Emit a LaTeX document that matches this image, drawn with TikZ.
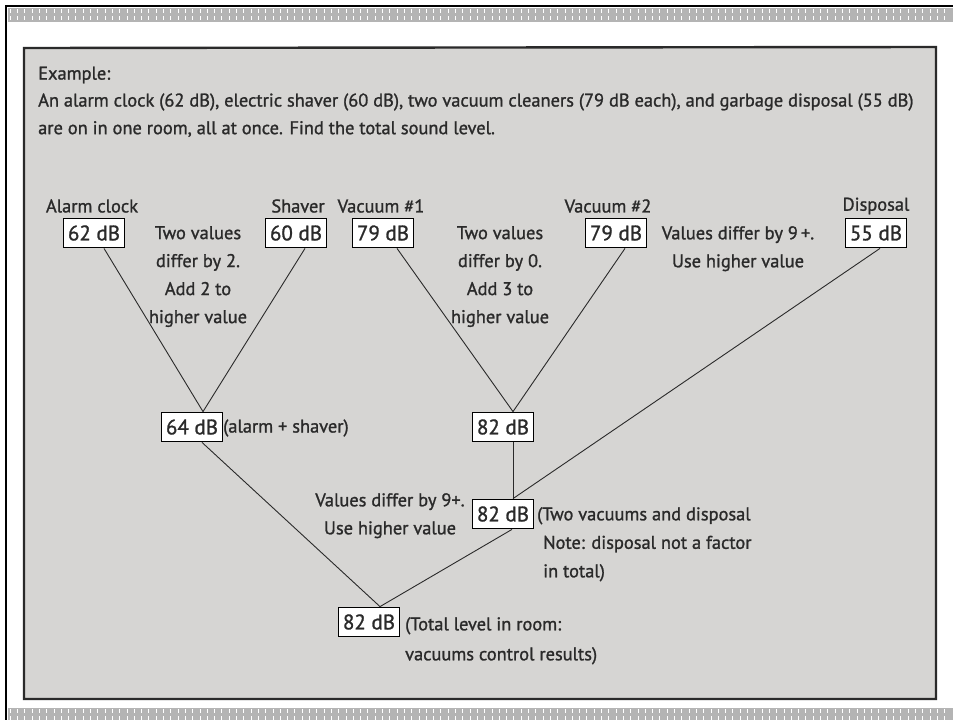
\documentclass[tikz,border=0pt]{standalone}
\usepackage{fontspec}
\setmainfont{PT Sans}[FakeBold=1.2]
\definecolor{ink}{HTML}{2A2A2A}
\definecolor{panel}{HTML}{D6D5D3}
\definecolor{band}{HTML}{B4B4B4}
\begin{document}
\begin{tikzpicture}[x=1pt,y=-1pt,
  txt/.style={text=ink, font=\fontsize{18.4}{28}\selectfont, inner sep=0pt, align=center},
  ltxt/.style={text=ink, font=\fontsize{18.4}{27}\selectfont, inner sep=0pt, anchor=west, align=left},
  dbbox/.style={draw=black, line width=1.8pt, fill=white, font=\fontsize{21}{22}\selectfont,
    minimum width=61pt, minimum height=29pt, inner sep=0pt, text=ink},
  link/.style={draw=ink, line width=0.9pt}]
\useasboundingbox (0,0) rectangle (953,720);
% frame and bands
\fill[white] (0,0) rectangle (953,720);
\fill[band] (8,8) rectangle (953,22);
\fill[band] (8,708) rectangle (953,720);
\foreach \i in {0,...,128} {
  \draw[white, line width=0.6pt, dash pattern=on 4pt off 3pt] (10+7.3*\i,9) -- (10+7.3*\i,22);
  \draw[white, line width=0.6pt, dash pattern=on 4pt off 3pt] (10+7.3*\i,709) -- (10+7.3*\i,720);
}
\draw[black, line width=2.5pt] (6,720) -- (6,6) -- (953,6);
% panel
\draw[fill=panel, draw=ink, line width=2.4pt] (24,48) -- (936,47) -- (936,699) -- (24,699) -- cycle;
% example text
\node[ltxt] (ex) at (38,75) {Example:};
\node[ltxt] (ex2) at (38,102) {An alarm clock (62 dB), electric shaver (60 dB), two vacuum cleaners (79 dB each), and garbage disposal (55 dB)};
\node[ltxt] (ex3) at (38,129) {are on in one room, all at once. Find the total sound level.};
% labels
\node[txt] (lalarm) at (92,206) {Alarm clock};
\node[txt] (lshaver) at (298,206) {Shaver};
\node[txt] (lvac1) at (381,206) {Vacuum \#1};
\node[txt] (lvac2) at (608,206) {Vacuum \#2};
\node[txt] (ldisp) at (876,206) {Disposal};
% boxes
\node[dbbox] (alarm) at (94,233) {62 dB};
\node[dbbox] (shaver) at (296,233) {60 dB};
\node[dbbox] (vac1) at (383,233) {79 dB};
\node[dbbox] (vac2) at (616,233) {79 dB};
\node[dbbox] (disp) at (876,233) {55 dB};
\node[dbbox] (as) at (192,427) {64 dB};
\node[dbbox] (vv) at (503,427) {82 dB};
\node[dbbox] (vvd) at (503,514) {82 dB};
\node[dbbox] (tot) at (369,622) {82 dB};
% notes
\node[txt, anchor=north] (n1) at (198,226) {Two values\\differ by 2.\\Add 2 to\\higher value};
\node[txt, anchor=north] (n2) at (500,226) {Two values\\differ by 0.\\Add 3 to\\higher value};
\node[txt, anchor=north] (n3) at (738,226) {Values differ by 9\,+.\\Use higher value};
\node[txt, anchor=north] (n4) at (390,493) {Values differ by 9+.\\Use higher value};
\node[ltxt] (c1) at (223,428) {(alarm + shaver)};
\node[ltxt, anchor=north west, font=\fontsize{18.4}{28.5}\selectfont] (c2) at (537,507) {(Two vacuums and disposal\\\hspace*{6pt}Note: disposal not a factor\\\hspace*{6pt}in total)};
\node[ltxt, anchor=north west, font=\fontsize{18.4}{30}\selectfont] (c3) at (405,617) {(Total level in room:\\vacuums control results)};
% connectors
\draw[link] ([xshift=10pt]alarm.south) -- ([xshift=11pt]as.north);
\draw[link] ([xshift=9pt]shaver.south) -- ([xshift=11pt]as.north);
\draw[link] ([xshift=14pt]vac1.south) -- ([xshift=10pt]vv.north);
\draw[link] ([xshift=9pt]vac2.south) -- ([xshift=10pt]vv.north);
\draw[link] ([xshift=10pt]vv.south) -- ([xshift=10pt]vvd.north);
\draw[link] ([xshift=4pt]disp.south) -- ([xshift=10pt]vvd.north);
\draw[link] ([xshift=10pt]as.south) -- ([xshift=11pt]tot.north);
\draw[link] ([xshift=9pt]vvd.south) -- ([xshift=11pt]tot.north);
\end{tikzpicture}
\end{document}
